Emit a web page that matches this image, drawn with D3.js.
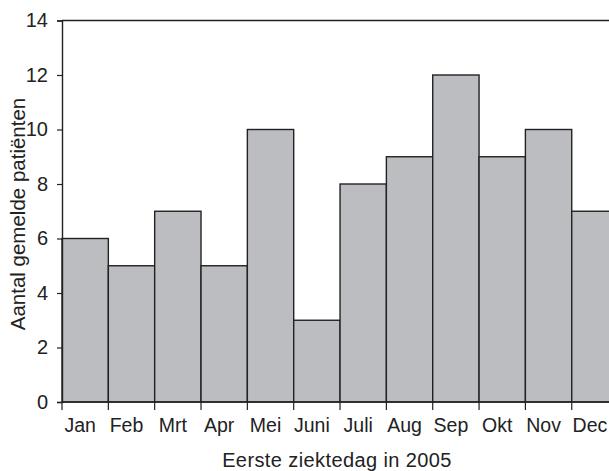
<!DOCTYPE html>
<html><head><meta charset="utf-8">
<script src="https://cdn.jsdelivr.net/npm/d3@7"></script>
<style>body{margin:0;background:#fff;}svg{display:block;font-family:"Liberation Sans",Arial,sans-serif;}</style>
</head><body>
<svg id="c" width="609" height="471"></svg>
<script>
const months = ["Jan","Feb","Mrt","Apr","Mei","Juni","Juli","Aug","Sep","Okt","Nov","Dec"];
const counts = [6,5,7,5,10,3,8,9,12,9,10,7];
const yTicks = [0,2,4,6,8,10,12,14];

const svg = d3.select("#c");
const x0 = 62, bw = 46.34;
const x = d3.scaleBand().domain(months).range([x0, x0 + bw*months.length]).padding(0);
const y = d3.scaleLinear().domain([0,14]).range([402,20.5]);

// bars
svg.append("g").selectAll("rect").data(months).join("rect")
  .attr("x", d => x(d)).attr("width", x.bandwidth())
  .attr("y", (d,i) => y(counts[i])).attr("height", (d,i) => y(0) - y(counts[i]))
  .attr("fill","#bcbdc1").attr("stroke","#222").attr("stroke-width",1.4);

// top frame line
svg.append("line").attr("x1",x0).attr("x2",609).attr("y1",y(14)).attr("y2",y(14))
  .attr("stroke","#222").attr("stroke-width",1.4);

// y axis
const ya = svg.append("g").attr("transform",`translate(${x0},0)`)
  .call(d3.axisLeft(y).tickValues(yTicks).tickSize(5).tickPadding(9));
ya.attr("font-size",20).attr("font-family","Liberation Sans, Arial, sans-serif");
ya.select(".domain").attr("stroke","#222").attr("stroke-width",1.4);
ya.selectAll(".tick line").attr("stroke","#222").attr("stroke-width",1.2);
ya.selectAll("text").style("font-size","20px").attr("fill","#222");

// x axis baseline + ticks at bar boundaries
svg.append("line").attr("x1",x0).attr("x2",609).attr("y1",y(0)).attr("y2",y(0))
  .attr("stroke","#222").attr("stroke-width",1.4);
svg.append("g").selectAll("line").data(months).join("line")
  .attr("x1", d => x(d)).attr("x2", d => x(d)).attr("y1", y(0)).attr("y2", y(0)+8)
  .attr("stroke","#222").attr("stroke-width",1.2);
svg.append("g").selectAll("text").data(months).join("text")
  .attr("x", d => x(d) + x.bandwidth()/2 - 5).attr("y", 432)
  .attr("text-anchor","middle").style("font-size","19.5px").attr("fill","#222").text(d => d);

// axis titles
svg.append("text").attr("x",337).attr("y",467).attr("text-anchor","middle")
  .style("font-size","20px").style("letter-spacing","0.4px").attr("fill","#222").text("Eerste ziektedag in 2005");
svg.append("text").attr("transform","translate(25,214) rotate(-90)").attr("text-anchor","middle")
  .style("font-size","20.5px").attr("fill","#222").text("Aantal gemelde pati\u00EBnten");
</script>
</body></html>
